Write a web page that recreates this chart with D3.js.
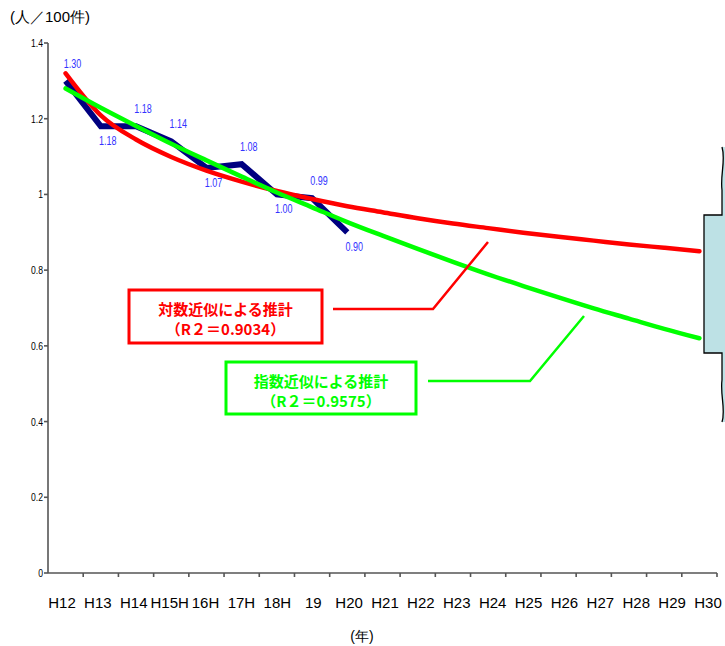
<!DOCTYPE html>
<html><head><meta charset="utf-8">
<script src="https://cdn.jsdelivr.net/npm/d3@7"></script>
<style>body{margin:0;background:#fff}svg{display:block}</style>
</head><body>
<script>
const categories = ["H12","H13","H14","H15","H16","H17","H18","H19","H20","H21","H22","H23","H24","H25","H26","H27","H28","H29","H30"];
const tickLabels = ["H12","H13","H14","H15H","16H","17H","18H","19","H20","H21","H22","H23","H24","H25","H26","H27","H28","H29","H30"];
const actual = [1.30,1.18,1.18,1.14,1.07,1.08,1.00,0.99,0.90];
const actualLabels = ["1.30","1.18","1.18","1.14","1.07","1.08","1.00","0.99","0.90"];
const labelSide = ["above","below","above","above","below","above","below","above","below"];
const logFit = [1.320,1.209,1.145,1.099,1.063,1.034,1.009,0.988,0.969,0.953,0.937,0.923,0.911,0.899,0.888,0.878,0.868,0.859,0.850];
const expFit = [1.280,1.229,1.181,1.134,1.090,1.047,1.005,0.966,0.927,0.891,0.856,0.822,0.789,0.758,0.728,0.699,0.672,0.645,0.620];
const yTicks = [0,0.2,0.4,0.6,0.8,1,1.2,1.4];
const yTickText = ["0","0.2","0.4","0.6","0.8","1","1.2","1.4"];

const W=725,H=646;
const svg=d3.select("body").append("svg").attr("width",W).attr("height",H);
const x=d3.scaleBand().domain(categories).range([48,717]).padding(0);
const xl=d3.scalePoint().domain(categories).range([62,708]);
const y=d3.scaleLinear().domain([0,1.4]).range([573,43]);
const cx=d=>x(d)+x.bandwidth()/2;
const sans='"Liberation Sans", Arial, sans-serif';

// right decoration box
svg.append("path")
 .attr("d","M722,147 C726,160 720,175 722,190 L722,215 L704,215 L704,353 L722,353 L722,380 C720,395 726,410 722,422 L730,422 L730,147 Z")
 .attr("fill","#bde1e5").attr("stroke","none");
svg.append("path")
 .attr("d","M722,147 C726,160 720,175 722,190 L722,215 L704,215 L704,353 L722,353 L722,380 C720,395 726,410 722,422")
 .attr("fill","none").attr("stroke","#000").attr("stroke-width",1.3);

// axes
const ax=svg.append("g").attr("stroke","#555").attr("stroke-width",1.6);
ax.append("line").attr("x1",48).attr("x2",48).attr("y1",y(1.4)).attr("y2",y(0));
ax.append("line").attr("x1",48).attr("x2",717).attr("y1",y(0)).attr("y2",y(0));
yTicks.forEach(v=>ax.append("line").attr("x1",44).attr("x2",48).attr("y1",y(v)).attr("y2",y(v)));
categories.forEach(c=>ax.append("line").attr("x1",x(c)+x.bandwidth()).attr("x2",x(c)+x.bandwidth()).attr("y1",y(0)).attr("y2",y(0)+4));

svg.append("g").selectAll("text").data(yTicks).join("text")
 .attr("transform",v=>`translate(43,${y(v)+4}) scale(0.75,1)`).attr("text-anchor","end")
 .attr("font-family",sans).attr("font-size",11.5).attr("fill","#000")
 .text((v,i)=>yTickText[i]);

svg.append("g").selectAll("text").data(categories).join("text")
 .attr("x",d=>xl(d)).attr("y",608).attr("text-anchor","middle")
 .attr("font-family",sans).attr("font-size",15).attr("fill","#000")
 .text((d,i)=>tickLabels[i]);

svg.append("text").attr("x",10).attr("y",22).attr("font-family",sans).attr("font-size",15).text("(人／100件)");
svg.append("text").attr("x",362).attr("y",641).attr("text-anchor","middle").attr("font-family",sans).attr("font-size",14).text("(年)");

// lines
const line=d3.line().x(d=>cx(d.c)).y(d=>y(d.v));
const mk=arr=>arr.map((v,i)=>({c:categories[i],v}));
svg.append("path").attr("d",line(mk(actual))).attr("fill","none").attr("stroke","#000080").attr("stroke-width",6).attr("stroke-linejoin","miter");
const smooth=d3.line().x(d=>cx(d.c)).y(d=>y(d.v)).curve(d3.curveMonotoneX);
svg.append("path").attr("d",smooth(mk(logFit))).attr("fill","none").attr("stroke","#ff0000").attr("stroke-width",4.5).attr("stroke-linecap","round");
svg.append("path").attr("d",smooth(mk(expFit))).attr("fill","none").attr("stroke","#00ff00").attr("stroke-width",4.5).attr("stroke-linecap","round");

// data labels
svg.append("g").selectAll("text").data(actual).join("text")
 .attr("transform",(v,i)=>`translate(${cx(categories[i])+7},${labelSide[i]==="above"? y(v)-13 : y(v)+19}) scale(0.75,1)`)
 .attr("text-anchor","middle").attr("font-family",sans).attr("font-size",12).attr("fill","#3333ff")
 .text((v,i)=>actualLabels[i]);

// annotations
const jp='"Noto Sans CJK JP",sans-serif';
function note(x0,y0,w,h,color,l1,l2){
 svg.append("rect").attr("x",x0).attr("y",y0).attr("width",w).attr("height",h).attr("fill","#fff").attr("stroke",color).attr("stroke-width",3);
 svg.append("text").attr("x",x0+w/2).attr("y",y0+25).attr("text-anchor","middle").attr("font-family",jp).attr("font-weight","bold").attr("font-size",15).attr("fill",color).text(l1);
 svg.append("text").attr("x",x0+w/2).attr("y",y0+45).attr("text-anchor","middle").attr("font-family",jp).attr("font-weight","bold").attr("font-size",15).attr("fill",color).text(l2);
}
note(129,290,193,53,"#ff0000","対数近似による推計","（R２＝0.9034）");
note(226,362,190,52,"#00ff00","指数近似による推計","（R２＝0.9575）");
svg.append("path").attr("d","M333,309 L433,309 L488,242").attr("fill","none").attr("stroke","#ff0000").attr("stroke-width",2.5);
svg.append("path").attr("d","M428,381 L530,381 L584,316").attr("fill","none").attr("stroke","#00ff00").attr("stroke-width",2.5);
</script>
</body></html>
